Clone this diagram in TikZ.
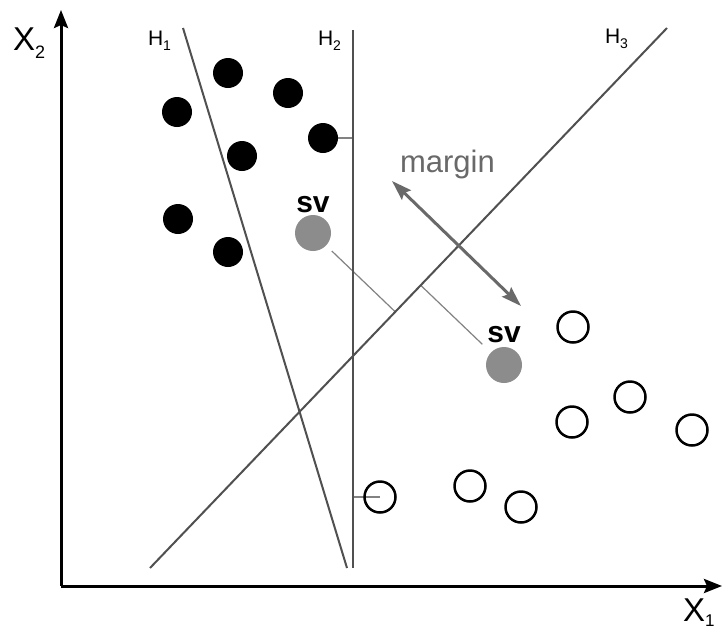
\documentclass[tikz,border=0pt]{standalone}
\usepackage{fontspec}
\setmainfont{Liberation Sans}
\usetikzlibrary{arrows.meta,calc,backgrounds}
\definecolor{hline}{RGB}{80,80,80}
\definecolor{tickgray}{RGB}{130,130,130}
\definecolor{svgray}{RGB}{140,140,140}
\definecolor{margingray}{RGB}{105,105,105}
\begin{document}
\begin{tikzpicture}[x=1pt,y=-1pt,
  axis/.style={line width=3pt,-{Stealth[length=18pt,width=14pt,inset=3pt]}},
  hyper/.style={draw=hline,line width=2pt},
  thin link/.style={draw=tickgray,line width=1.2pt},
  tick link/.style={draw=tickgray,line width=1.5pt},
  marginarrow/.style={draw=margingray,line width=3pt,
    {Stealth[length=20pt,width=13pt,inset=3pt]}-{Stealth[length=20pt,width=13pt,inset=3pt]}},
  blackpt/.style={circle,fill=black,minimum size=30pt,inner sep=0pt,outer sep=0pt},
  whitept/.style={circle,draw=black,line width=2.5pt,minimum size=31pt,inner sep=0pt,outer sep=0pt},
  svpt/.style={circle,fill=svgray,minimum size=36pt,inner sep=0pt,outer sep=0pt},
  lbl/.style={anchor=base west,inner sep=0pt,outer sep=0pt},
  svlbl/.style={anchor=base,inner sep=0pt,outer sep=0pt,font=\fontsize{30}{30}\selectfont\bfseries}]
\useasboundingbox (0,0) rectangle (725,630);

% axis and hyperplane end points
\coordinate (o) at (61,586);
\coordinate (xend) at (722,586);
\coordinate (yend) at (61,10);
\coordinate (h1t) at (183,28);
\coordinate (h1b) at (347,568);
\coordinate (h2t) at (353,30);
\coordinate (h2b) at (353,568);
\coordinate (h3t) at (667,28);
\coordinate (h3b) at (150,568);
\coordinate (m1) at (392,181);
\coordinate (m2) at (521,306);

% black points
\node[blackpt] (b1) at (228,73) {};
\node[blackpt] (b2) at (288,93) {};
\node[blackpt] (b3) at (177,112) {};
\node[blackpt] (b4) at (323,138) {};
\node[blackpt] (b5) at (242,156) {};
\node[blackpt] (b6) at (178,219) {};
\node[blackpt] (b7) at (228,252) {};

% white points
\node[whitept] (w1) at (573,327) {};
\node[whitept] (w2) at (630,397) {};
\node[whitept] (w3) at (572,422) {};
\node[whitept] (w4) at (692,430) {};
\node[whitept] (w5) at (380,497) {};
\node[whitept] (w6) at (470,486) {};
\node[whitept] (w7) at (521,507) {};

% support vectors
\node[svpt] (s1) at (313,233) {};
\node[svpt] (s2) at (504,365) {};
\node[svlbl] (sv1) at (313,212) {sv};
\node[svlbl] (sv2) at (504,342) {sv};

% labels
\node[lbl] (lx2) at (13,50) {\fontsize{33}{33}\selectfont X\raisebox{-8pt}{\fontsize{18}{18}\selectfont 2}};
\node[lbl] (lx1) at (683,621) {\fontsize{33}{33}\selectfont X\raisebox{-5pt}{\fontsize{17}{17}\selectfont 1}};
\node[lbl] (lh1) at (148,45) {\fontsize{21}{21}\selectfont H\raisebox{-5pt}{\fontsize{14}{14}\selectfont 1}};
\node[lbl] (lh2) at (318,45) {\fontsize{21}{21}\selectfont H\raisebox{-5pt}{\fontsize{14}{14}\selectfont 2}};
\node[lbl] (lh3) at (605,43) {\fontsize{21}{21}\selectfont H\raisebox{-5pt}{\fontsize{14}{14}\selectfont 3}};
\node[lbl,text=margingray] (lm) at (400,172) {\fontsize{31}{31}\selectfont margin};

\begin{pgfonlayer}{background}
  \fill[white] (0,0) rectangle (725,630);
  % feet of perpendiculars on H3
  \coordinate (f1) at ($(h3b)!(s1.center)!(h3t)$);
  \coordinate (f2) at ($(h3b)!(s2.center)!(h3t)$);
  \draw[thin link,shorten <=8pt] (s1) -- (f1);
  \draw[thin link,shorten <=12pt] (s2) -- (f2);
  % distance ticks to H2
  \draw[tick link] (b4) -- (b4 -| h2t);
  \draw[tick link] (w5.center) -- (w5 -| h2t);
  % hyperplanes
  \draw[hyper] (h1t) -- (h1b);
  \draw[hyper] (h2t) -- (h2b);
  \draw[hyper] (h3b) -- (h3t);
  % margin arrow
  \draw[marginarrow] (m1) -- (m2);
  % axes
  \draw[axis] (o) -- (xend);
  \draw[axis] (o) -- (yend);
\end{pgfonlayer}
\end{tikzpicture}
\end{document}
